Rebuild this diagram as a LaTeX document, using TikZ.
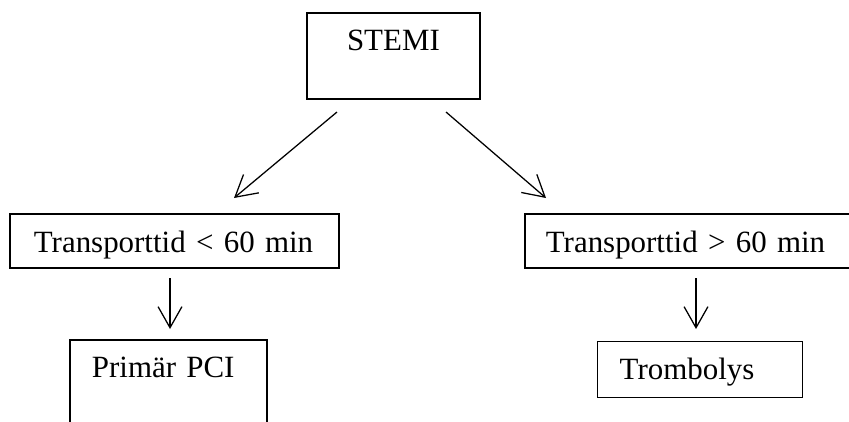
\documentclass[tikz,border=0pt]{standalone}
\usepackage{fontspec}
\setmainfont{Liberation Serif}
\usetikzlibrary{arrows.meta}
\tikzset{
  box/.style={draw, line width=1.3pt, anchor=north west, inner ysep=0pt, font=\fontsize{22}{26}\selectfont},
  flow/.style={-{Straight Barb[length=15pt,width=17pt]}, line width=0.9pt}
}

\begin{document}
\begin{tikzpicture}[x=1.0cm,y=1.0cm]
			\useasboundingbox (0,0) rectangle (21.225,-10.525);
			% boxes
			\node[box, inner xsep=0.3cm, text width=3.725cm, align=center, text height=0.95cm, text depth=1.2cm] (stemi) at (7.65,-0.3) {STEMI};
			\node[box, inner xsep=0.6cm, text width=7.025cm, align=left, text height=0.975cm, text depth=0.375cm] (kort) at (0.225,-5.325) {Transporttid < 60 min};
			\node[box, inner xsep=0.525cm, text width=7.15cm, align=left, text height=0.975cm, text depth=0.375cm] (lang) at (13.1,-5.325) {Transporttid > 60 min};
			\node[box, inner xsep=0.55cm, text width=3.825cm, align=left, text height=0.95cm, text depth=1.6cm] (pci) at (1.725,-8.475) {Primär PCI};
			\node[box, line width=1pt, inner xsep=0.55cm, text width=4.025cm, align=left, text height=0.95cm, text depth=0.45cm] (tromb) at (14.925,-8.525) {Trombolys};
			% arrow ends
			\coordinate (s1) at (8.425,-2.8);
			\coordinate (e1) at (5.85,-4.95);
			\coordinate (s2) at (11.15,-2.8);
			\coordinate (e2) at (13.65,-4.95);
			\coordinate (s3) at (4.25,-6.95);
			\coordinate (e3) at (4.25,-8.225);
			\coordinate (s4) at (17.4,-6.95);
			\coordinate (e4) at (17.4,-8.225);
			\draw [flow] (s1) -- (e1);
			\draw [flow] (s2) -- (e2);
			\draw [flow] (s3) -- (e3);
			\draw [flow] (s4) -- (e4);
\end{tikzpicture}
\end{document}
